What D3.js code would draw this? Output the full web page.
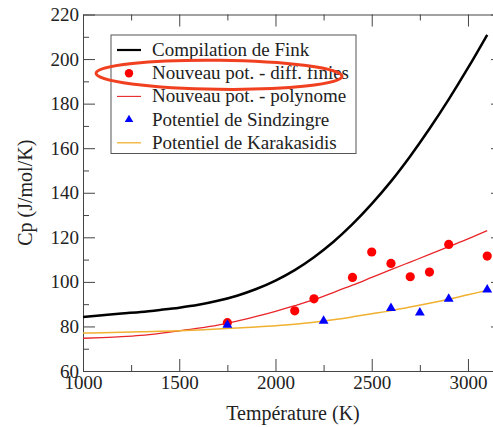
<!DOCTYPE html>
<html><head><meta charset="utf-8">
<script src="https://cdn.jsdelivr.net/npm/d3@7"></script>
<style>
body{margin:0;background:#fff}
svg{display:block}
text{font-family:"Liberation Serif","Times New Roman",serif;fill:#222}
</style>
</head><body>
<svg id="c" width="493" height="427"></svg>
<script>
// ---- data ----
const temps = [1000,1100,1200,1300,1400,1500,1600,1700,1800,1900,2000,2100,2200,2300,2400,2500,2600,2700,2800,2900,3000,3100];
const finkCp = [84.2,85.0,85.8,86.5,87.4,88.4,89.7,91.5,93.8,96.8,100.6,105.3,111.1,117.9,125.9,135.0,145.1,156.4,168.7,181.9,196.0,210.9];
const polyCp = [74.7,75.0,75.4,76.0,76.9,78.0,79.2,80.6,82.4,84.5,86.8,89.3,92.0,95.2,98.5,102.0,105.5,108.9,112.3,115.8,119.3,123.0];
const karaCp = [77.0,77.2,77.4,77.6,77.8,78.1,78.4,78.8,79.3,79.8,80.3,81.0,81.9,83.0,84.3,85.7,87.1,88.7,90.4,92.2,94.2,96.2];
const diffT  = [1750,2100,2200,2400,2500,2600,2700,2800,2900,3100];
const diffCp = [81.7,87.0,92.4,102.0,113.4,108.3,102.3,104.4,116.8,111.6];
const sindT  = [1750,2250,2600,2750,2900,3100];
const sindCp = [80.7,82.5,88.2,86.2,92.3,96.5];
const xTicks = [1000,1500,2000,2500,3000];
const yTicks = [60,80,100,120,140,160,180,200,220];
const legendLabels = ["Compilation de Fink","Nouveau pot. - diff. finies","Nouveau pot. - polynome","Potentiel de Sindzingre","Potentiel de Karakasidis"];

// ---- layout ----
const L=83, R=503, T=14.5, B=371;
const svg = d3.select("#c");
const x = d3.scaleLinear().domain([1000,3182]).range([L,R]);
const y = d3.scaleLinear().domain([60,220]).range([B,T]);
const axisColor="#444";

function styleAxis(g){
  g.selectAll("path,line").attr("stroke",axisColor).attr("stroke-width",1);
  g.selectAll("text").style("font-size","19px").style("font-family",'"Liberation Serif","Times New Roman",serif').attr("fill","#222");
}
const xMinor = d3.range(1250,3182,500);
const yMinor = d3.range(70,220,20);

// bottom
svg.append("g").attr("transform",`translate(0,${B})`)
  .call(d3.axisBottom(x).tickValues(xTicks).tickSize(-12).tickSizeOuter(0).tickPadding(4.5).tickFormat(d3.format("d"))).call(styleAxis);
svg.append("g").attr("transform",`translate(0,${B})`)
  .call(d3.axisBottom(x).tickValues(xMinor).tickSize(-6).tickSizeOuter(0).tickFormat("")).call(styleAxis)
  .select(".domain").remove();
// top
svg.append("g").attr("transform",`translate(0,${T})`)
  .call(d3.axisTop(x).tickValues(xTicks).tickSize(-12).tickSizeOuter(0).tickFormat("")).call(styleAxis);
svg.append("g").attr("transform",`translate(0,${T})`)
  .call(d3.axisTop(x).tickValues(xMinor).tickSize(-6).tickSizeOuter(0).tickFormat("")).call(styleAxis)
  .select(".domain").remove();
// left
svg.append("g").attr("transform",`translate(${L},0)`)
  .call(d3.axisLeft(y).tickValues(yTicks).tickSize(-12).tickSizeOuter(0).tickPadding(4).tickFormat(d3.format("d"))).call(styleAxis);
svg.append("g").attr("transform",`translate(${L},0)`)
  .call(d3.axisLeft(y).tickValues(yMinor).tickSize(-6).tickSizeOuter(0).tickFormat("")).call(styleAxis)
  .select(".domain").remove();
// right
svg.append("g").attr("transform",`translate(${R},0)`)
  .call(d3.axisRight(y).tickValues(yTicks).tickSize(-12).tickSizeOuter(0).tickFormat("")).call(styleAxis);
svg.append("g").attr("transform",`translate(${R},0)`)
  .call(d3.axisRight(y).tickValues(yMinor).tickSize(-6).tickSizeOuter(0).tickFormat("")).call(styleAxis)
  .select(".domain").remove();

// axis titles
svg.append("text").attr("x",(L+R)/2).attr("y",420).attr("text-anchor","middle")
  .style("font-size","20px").text("Température (K)");
svg.append("text").attr("transform",`translate(32,${(T+B)/2}) rotate(-90)`).attr("text-anchor","middle")
  .style("font-size","20px").text("Cp (J/mol/K)");

// lines
const line = d3.line().x(d=>x(d[0])).y(d=>y(d[1])).curve(d3.curveMonotoneX);
const zipT = arr => temps.map((t,i)=>[t,arr[i]]);
svg.append("path").attr("d",line(zipT(finkCp))).attr("fill","none").attr("stroke","#000").attr("stroke-width",2.5);
svg.append("path").attr("d",line(zipT(polyCp))).attr("fill","none").attr("stroke","#e8262a").attr("stroke-width",1.3);
svg.append("path").attr("d",line(zipT(karaCp))).attr("fill","none").attr("stroke","#f0b030").attr("stroke-width",1.5);

// points
svg.append("g").selectAll("circle").data(diffT.map((t,i)=>[t,diffCp[i]])).join("circle")
  .attr("cx",d=>x(d[0])).attr("cy",d=>y(d[1])).attr("r",4.6).attr("fill","#ff0000");
const tri = d3.symbol().type(d3.symbolTriangle).size(42);
svg.append("g").selectAll("path").data(sindT.map((t,i)=>[t,sindCp[i]])).join("path")
  .attr("d",tri).attr("transform",d=>`translate(${x(d[0])},${y(d[1])})`).attr("fill","#0000ff");

// legend
const lg = svg.append("g");
lg.append("rect").attr("x",111).attr("y",35).attr("width",245).attr("height",118.5)
  .attr("fill","#fff").attr("stroke","#555").attr("stroke-width",1);
const rowY = i => 50 + i*23.2;
legendLabels.forEach((lab,i)=>{
  lg.append("text").attr("x",152).attr("y",rowY(i)+6).style("font-size","19px").text(lab);
});
lg.append("line").attr("x1",117).attr("x2",141).attr("y1",rowY(0)).attr("y2",rowY(0)).attr("stroke","#000").attr("stroke-width",2.2);
lg.append("circle").attr("cx",129).attr("cy",rowY(1)).attr("r",4.2).attr("fill","#ff0000");
lg.append("line").attr("x1",117).attr("x2",141).attr("y1",rowY(2)).attr("y2",rowY(2)).attr("stroke","#e8262a").attr("stroke-width",1.1);
lg.append("path").attr("d",d3.symbol().type(d3.symbolTriangle).size(32)()).attr("transform",`translate(129,${rowY(3)})`).attr("fill","#0000ff");
lg.append("line").attr("x1",117).attr("x2",141).attr("y1",rowY(4)).attr("y2",rowY(4)).attr("stroke","#f0b030").attr("stroke-width",1.3);

// annotation ellipse
svg.append("ellipse").attr("cx",219).attr("cy",74.8).attr("rx",123).attr("ry",14.5)
  .attr("transform","rotate(0.7,219,74.8)")
  .attr("fill","none").attr("stroke","#f04020").attr("stroke-width",3);
</script>
</body></html>
